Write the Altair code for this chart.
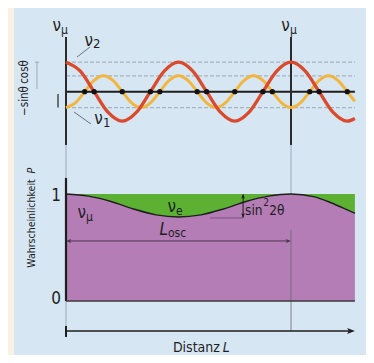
import altair as alt
import pandas as pd

FONT = "Liberation Sans Narrow, DejaVu Sans Condensed, Roboto Condensed, Noto Sans, sans-serif"

# ---------------- data ----------------
# upper panel: mass-eigenstate waves, amplitude units (cos θ ≈ 0.88, sin θ ≈ 0.475),
# L in units of the oscillation length L_osc
nu2_L = [0, 0.0625, 0.125, 0.1875, 0.25, 0.3125, 0.375, 0.4375, 0.5, 0.5625, 0.625,
         0.6875, 0.75, 0.8125, 0.875, 0.9375, 1.0, 1.0625, 1.125, 1.1875, 1.25, 1.284]
nu2_A = [0.88, 0.62, 0, -0.62, -0.88, -0.62, 0, 0.62, 0.88, 0.62, 0,
         -0.62, -0.88, -0.62, 0, 0.62, 0.88, 0.62, 0, -0.62, -0.88, -0.80]
nu1_L = [0, 0.0417, 0.0833, 0.125, 0.1667, 0.2083, 0.25, 0.2917, 0.3333, 0.375, 0.4167,
         0.4583, 0.5, 0.5417, 0.5833, 0.625, 0.6667, 0.7083, 0.75, 0.7917, 0.8333, 0.875,
         0.9167, 0.9583, 1.0, 1.0417, 1.0833, 1.125, 1.1667, 1.2083, 1.25, 1.284]
nu1_A = [-0.475, -0.336, 0, 0.336, 0.475, 0.336, 0, -0.336, -0.475, -0.336, 0,
         0.336, 0.475, 0.336, 0, -0.336, -0.475, -0.336, 0, 0.336, 0.475, 0.336,
         0, -0.336, -0.475, -0.336, 0, 0.336, 0.475, 0.336, 0, -0.29]
node_L = [0.083, 0.125, 0.25, 0.375, 0.417, 0.583, 0.625, 0.75, 0.875, 0.917, 1.083, 1.125, 1.25]
guide_A = [0.88, 0.475, -0.475]          # cos θ, sin θ, −sin θ
L_end = 1.284

# lower panel: survival probability P(ν_μ)
prob_L = [0, 0.1, 0.2, 0.3, 0.4, 0.5, 0.6, 0.7, 0.8, 0.9, 1.0, 1.1, 1.17, 1.23, 1.284]
prob_P = [1.0, 0.98, 0.93, 0.86, 0.805, 0.785, 0.805, 0.86, 0.93, 0.98, 1.0, 0.975, 0.925, 0.87, 0.82]
P_min = 0.776        # 1 − sin² 2θ marker
P_losc = 0.561       # height of the L_osc arrow
P_dist = -0.28       # height of the distance arrow

# ---------------- scales ----------------
X = alt.Scale(domain=[-0.2578, 1.3333], nice=False, zero=False)
YT = alt.Scale(domain=[-7.86, 2.4985], nice=False, zero=False)
YB = alt.Scale(domain=[-0.5047, 2.738], nice=False, zero=False)

RIGHT = "M0,0L-2.6,-1L-2,0L-2.6,1Z"
LEFT = "M0,0L2.6,-1L2,0L2.6,1Z"
UP = "M0,0L-1,2.6L0,2L1,2.6Z"
DOWN = "M0,0L-1,-2.6L0,-2L1,-2.6Z"


def xe(f):
    return alt.X(f"{f}:Q", scale=X, axis=None)


def ye(f, s):
    return alt.Y(f"{f}:Q", scale=s, axis=None)


def segs(rows, scale, color, width, dash=None):
    df = pd.DataFrame(rows, columns=["x", "y", "x2", "y2"])
    kw = dict(color=color, strokeWidth=width)
    if dash:
        kw["strokeDash"] = dash
    return alt.Chart(df).mark_rule(**kw).encode(
        x=xe("x"), y=ye("y", scale), x2=alt.X2("x2"), y2=alt.Y2("y2"))


def txt(x, y, s, scale, size=16, align="left", baseline="alphabetic", angle=0,
        style="normal", color="#1e1e1e"):
    df = pd.DataFrame({"x": [x], "y": [y], "t": [s]})
    return alt.Chart(df).mark_text(font=FONT, fontSize=size, align=align, baseline=baseline,
                                   angle=angle, fontStyle=style, color=color).encode(
        x=xe("x"), y=ye("y", scale), text="t:N")


def head(x, y, shape, scale, size, color):
    df = pd.DataFrame({"x": [x], "y": [y]})
    return alt.Chart(df).mark_point(shape=shape, filled=True, size=size, color=color,
                                    opacity=1, strokeWidth=0).encode(
        x=xe("x"), y=ye("y", scale))


layers = []

# panel background
layers.append(alt.Chart(pd.DataFrame({"x": [-0.231], "x2": [1.36], "y": [2.76], "y2": [-0.56]}))
              .mark_rect(color="#d6e6f3").encode(x=xe("x"), x2=alt.X2("x2"),
                                                y=ye("y", YB), y2=alt.Y2("y2")))

# ---------- upper panel ----------
layers.append(segs([(0, a, L_end, a) for a in guide_A], YT, "#a9b3bf", 1.2, [4, 2]))
layers.append(segs([(-0.004, 0, L_end, 0)], YT, "#1e1e1e", 2))
layers.append(segs([(0, 1.633, 0, -1.59), (1, 1.633, 1, -1.59)], YT, "#2b2b2b", 2))
# thin continuation lines
layers.append(segs([(0, 1.458, 0, -0.234), (1, 1.458, 1, 1.0)], YB, "#8f98a3", 0.8))

df_nu1 = pd.DataFrame({"L": nu1_L, "A": nu1_A})
df_nu2 = pd.DataFrame({"L": nu2_L, "A": nu2_A})
layers.append(alt.Chart(df_nu1).mark_line(color="#f2b63d", strokeWidth=3, interpolate="monotone")
              .encode(x=xe("L"), y=ye("A", YT)))
layers.append(alt.Chart(df_nu2).mark_line(color="#da4a2c", strokeWidth=3.3, interpolate="monotone")
              .encode(x=xe("L"), y=ye("A", YT)))
layers.append(alt.Chart(pd.DataFrame({"L": node_L, "A": [0] * len(node_L)}))
              .mark_circle(color="#111111", size=28, opacity=1).encode(x=xe("L"), y=ye("A", YT)))

# leaders and brackets
layers.append(segs([(0.0489, 1.036, 0.1067, 1.334), (0.0356, -0.606, 0.111, -0.964)], YT, "#6f7378", 1))
layers.append(segs([(-0.129, 0.88, -0.129, 0.08), (-0.138, 0.88, -0.12, 0.88)], YT, "#a0a8b2", 1))
layers.append(segs([(-0.0356, -0.07, -0.0356, -0.475)], YT, "#4a4a4a", 1.5))

# labels upper panel
layers.append(txt(-0.022, 1.812, "ν", YT, 17, align="right"))
layers.append(txt(-0.022, 1.722, "μ", YT, 12))
layers.append(txt(0.995, 1.812, "ν", YT, 17, align="right"))
layers.append(txt(0.995, 1.722, "μ", YT, 12))
layers.append(txt(0.12, 1.364, "ν", YT, 17, align="right"))
layers.append(txt(0.12, 1.30, "2", YT, 13))
layers.append(txt(0.164, -0.967, "ν", YT, 17, align="right"))
layers.append(txt(0.164, -1.054, "1", YT, 13))
layers.append(txt(-0.182, 0.588, "cosθ", YT, 11.5, align="center", baseline="middle", angle=270))
layers.append(txt(-0.182, -0.278, "−sinθ", YT, 11.5, align="center", baseline="middle", angle=270))

# ---------- lower panel ----------
df_p = pd.DataFrame({"L": prob_L, "P": prob_P, "one": [1.0] * len(prob_L), "zero": [0.0] * len(prob_L)})
layers.append(alt.Chart(df_p).mark_area(color="#5cb132", opacity=1, interpolate="monotone")
              .encode(x=xe("L"), y=ye("P", YB), y2=alt.Y2("one")))
layers.append(alt.Chart(df_p).mark_area(color="#b47db5", opacity=1, interpolate="monotone")
              .encode(x=xe("L"), y=ye("P", YB), y2=alt.Y2("zero")))
layers.append(alt.Chart(df_p).mark_line(color="#1e1e1e", strokeWidth=1.4, interpolate="monotone")
              .encode(x=xe("L"), y=ye("P", YB)))

layers.append(segs([(1, 0.664, 1, P_dist)], YB, "#6a6475", 0.8))
layers.append(segs([(0, 1.15, 0, 0)], YB, "#1e1e1e", 2.2))
layers.append(segs([(0, 0, L_end, 0)], YB, "#3a3a3a", 1.5))

# L_osc arrow
layers.append(segs([(0.01, P_losc, 0.99, P_losc)], YB, "#4d3550", 1))
layers.append(head(0.0, P_losc, LEFT, YB, 16, "#4d3550"))
layers.append(head(1.0, P_losc, RIGHT, YB, 16, "#4d3550"))

# sin² 2θ marker
layers.append(segs([(0.64, P_min, 0.787, P_min)], YB, "#7d4f80", 1))
layers.append(segs([(0.787, 0.995, 0.787, P_min + 0.005)], YB, "#1e1e1e", 1))
layers.append(head(0.787, 1.0, UP, YB, 14, "#1e1e1e"))
layers.append(head(0.787, P_min, DOWN, YB, 14, "#1e1e1e"))

# distance arrow
layers.append(segs([(0, P_dist, L_end - 0.02, P_dist)], YB, "#1e1e1e", 1.5))
layers.append(segs([(0, -0.234, 0, -0.336)], YB, "#1e1e1e", 2))
layers.append(head(L_end, P_dist, RIGHT, YB, 36, "#1e1e1e"))

# labels lower panel
layers.append(txt(-0.022, 0.981, "1", YB, 17, align="right", baseline="middle"))
layers.append(txt(-0.022, 0.023, "0", YB, 17, align="right", baseline="middle"))
layers.append(txt(0.0889, 0.776, "ν", YB, 17, align="right"))
layers.append(txt(0.0889, 0.748, "μ", YB, 12))
layers.append(txt(0.489, 0.832, "ν", YB, 17, align="right"))
layers.append(txt(0.489, 0.804, "e", YB, 12))
layers.append(txt(0.453, 0.617, "L", YB, 17, align="right", style="italic"))
layers.append(txt(0.453, 0.598, "osc", YB, 12))
layers.append(txt(0.796, 0.804, "sin", YB, 13.5))
layers.append(txt(0.877, 0.885, "2", YB, 10))
layers.append(txt(0.903, 0.804, "2θ", YB, 13.5))
layers.append(txt(0.684, -0.477, "Distanz", YB, 14, align="right"))
layers.append(txt(0.697, -0.477, "L", YB, 14, style="italic"))
layers.append(txt(-0.151, 0.724, "Wahrscheinlichkeit", YB, 10.5, align="center", baseline="middle", angle=270))
layers.append(txt(-0.151, 1.218, "P", YB, 10.5, align="center", baseline="middle", angle=270, style="italic"))

chart = alt.layer(*layers).resolve_scale(y="independent").properties(
    width=358, height=347, padding=0, autosize=alt.AutoSizeParams(type="none"),
    background="#faf1e5",
).configure_view(stroke=None)

chart.save("out.html", embed_options={"renderer": "svg", "actions": False})
